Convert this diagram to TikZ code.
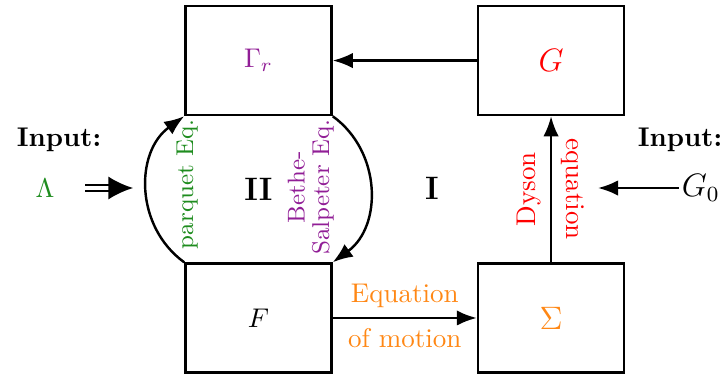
\documentclass[tikz,border=0pt]{standalone}
\usepackage{amsmath,amssymb}
\usepackage{xcolor}
\usetikzlibrary{arrows.meta, positioning, calc}

\definecolor{eqgreen}{RGB}{30,140,30}
\definecolor{eqpurple}{RGB}{145,30,150}
\definecolor{eqorange}{RGB}{255,135,20}

\begin{document}
\begin{tikzpicture}[
  box/.style={draw, line width=0.9pt, minimum width=1.9cm, minimum height=1.417cm, inner sep=0pt},
  inp/.style={font=\bfseries},
  side/.style={font=\small, align=center},
  arr/.style={-{Latex[length=2.6mm, width=2mm]}, line width=0.9pt},
  dbl/.style={double, double distance=1.6pt, line width=0.8pt, -{Latex[length=3.2mm, width=3mm]}}]
  \useasboundingbox (0,0) rectangle (9.438,-4.862);

  % the four boxes
  \node[box] (gam) at (3.36,-0.787) {\textcolor{eqpurple}{$\Gamma_r$}};
  \node[box, right=1.872cm of gam] (g) {\large\textcolor{red}{$G$}};
  \node[box, below=1.898cm of gam] (f) {$F$};
  \node[box, below=1.898cm of g] (sig) {\large\textcolor{eqorange}{$\Sigma$}};

  % inputs left and right
  \node[inp] (inl) at (0.767,-1.82) {Input:};
  \node (lam) at (0.585,-2.444) {\textcolor{eqgreen}{$\Lambda$}};
  \coordinate (lamin) at (1.729,-2.444);
  \node[inp] (inr) at (8.84,-1.82) {Input:};
  \node[inner sep=1pt] (g0) at (9.11,-2.444) {\large$G_0$};
  \coordinate (g0in) at (7.774,-2.444);

  \draw[dbl, shorten <=0.28cm] (lam) -- (lamin);
  \draw[arr] (g0.west) -- (g0in);

  % regions
  \node[font=\large\bfseries] (two) at ($(gam.south)!0.5!(f.north)$) {II};
  \node[font=\large\bfseries] (one) at (5.616,-2.444) {I};

  % connections
  \draw[arr] (g) -- (gam);
  \draw[arr] (sig) -- node[midway, anchor=south, rotate=90, text=red] {Dyson}
                      node[midway, anchor=south, rotate=-90, text=red] {equation} (g);
  \draw[arr] (f) -- node[above, text=eqorange] {Equation}
                    node[below, text=eqorange] {of motion} (sig);

  % parquet / Bethe-Salpeter loop
  \draw[arr] (f.north west) to[bend left=54, looseness=1.07] (gam.south west);
  \draw[arr] (gam.south east) to[bend left=54, looseness=1.07] (f.north east);
  \node[side, rotate=90, text=eqgreen] (parq)
    at ($(gam.south west)!0.5!(f.north west)+(0.04,0.065)$) {parquet Eq.};
  \node[side, rotate=90, text=eqpurple] (bse)
    at ($(gam.south east)!0.5!(f.north east)+(-0.286,0.026)$) {Bethe-\\[-2pt]Salpeter Eq.};
\end{tikzpicture}
\end{document}
